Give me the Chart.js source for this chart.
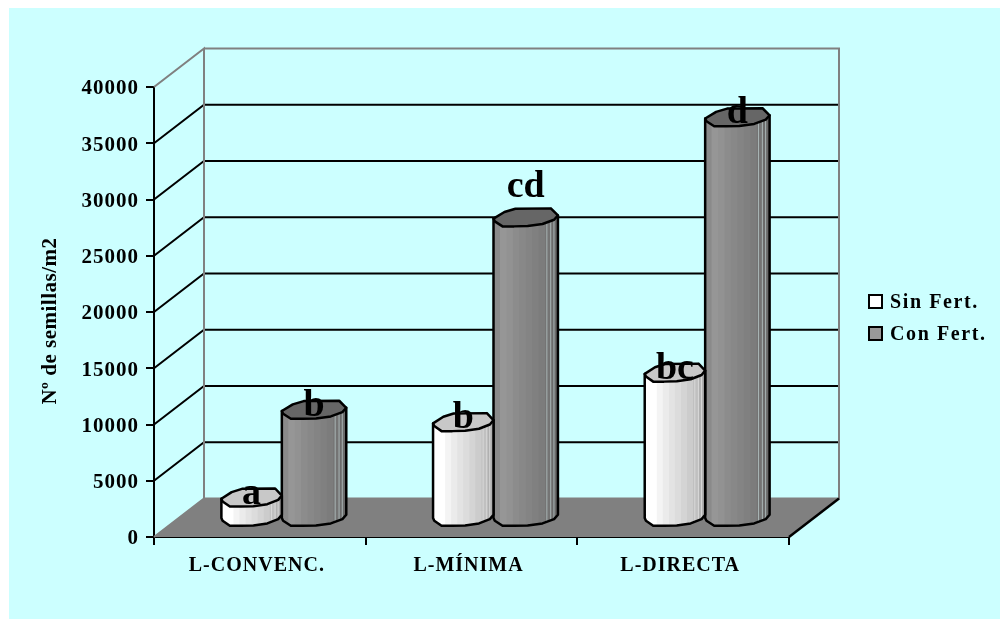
<!DOCTYPE html>
<html>
<head>
<meta charset="utf-8">
<title>Semillas por m2</title>
<script src="https://cdn.jsdelivr.net/npm/chart.js@4/dist/chart.umd.min.js"></script>
<style>
    html, body { margin: 0; padding: 0; background: #fff; }
    #wrap { width: 1000px; height: 619px; }
</style>
</head>
<body>
<div id="wrap"><canvas id="seedChart"></canvas></div>
<script>
// Chart data
const categories = ['L-CONVENC.', 'L-MÍNIMA', 'L-DIRECTA'];
const sinFert = [1800, 8500, 12900];
const conFert = [9600, 26700, 35600];
const sinFertLetters = ['a', 'b', 'bc'];
const conFertLetters = ['b', 'cd', 'd'];
const yTicks = [0, 5000, 10000, 15000, 20000, 25000, 30000, 35000, 40000];

const SERIF = '"Liberation Serif", "Times New Roman", serif';

// Depth of the fake 3D box, in pixels
const DEPTH_X = 50;
const DEPTH_Y = -38.5;
const CAP_HEIGHT = 18;

// Outline of the column section, as fractions of its width and cap height
const capTop = [[0, .57], [.17, .2], [.34, .02], [.89, 0], [1, .39]];
const capBottom = [[.94, .63], [.76, .87], [.53, .98], [.32, 1], [.14, 1], [.02, .72]];

const whiteBands = ['#ffffff', '#ffffff', '#f4f4f4', '#ebebeb', '#e3e3e3', '#dcdcdc', '#d4d4d4', '#cccccc', '#c0c0c0', '#b0b0b0'];
const greyBands = ['#8a8a8a', '#969696', '#929292', '#8c8c8c', '#888888', '#848484', '#808080', '#7c7c7c', '#747474', '#6a6a6a'];

function tracePoints(ctx, pts, x, y, w) {
    pts.forEach(p => ctx.lineTo(x + p[0] * w, y + p[1] * CAP_HEIGHT));
}

// Bar controller that paints each bar as a faceted column standing mid-depth
class ColumnController extends Chart.BarController {
    draw() {
        const ctx = this.chart.ctx;
        const ds = this.getDataset();
        this.getMeta().data.forEach(el => {
            const left = el.x - el.width / 2 + DEPTH_X / 2 + ds.inset[0];
            const w = el.width - ds.inset[0] + ds.inset[1];
            const topY = el.y + DEPTH_Y / 2 - CAP_HEIGHT / 2;
            const baseY = el.base + DEPTH_Y / 2 - CAP_HEIGHT / 2;

            ctx.save();
            ctx.lineJoin = 'round';
            ctx.lineWidth = 2.5;
            ctx.strokeStyle = '#000';

            // body
            ctx.beginPath();
            ctx.moveTo(left, topY + capTop[0][1] * CAP_HEIGHT);
            ctx.lineTo(left + w, topY + capTop[4][1] * CAP_HEIGHT);
            ctx.lineTo(left + w, baseY + capTop[4][1] * CAP_HEIGHT);
            tracePoints(ctx, capBottom, left, baseY, w);
            ctx.lineTo(left, baseY + capTop[0][1] * CAP_HEIGHT);
            ctx.closePath();

            ctx.save();
            ctx.clip();
            const bands = ds.bands;
            const bw = w / bands.length;
            bands.forEach((c, i) => {
                ctx.fillStyle = c;
                ctx.fillRect(left + i * bw, topY, bw + 1, baseY - topY + CAP_HEIGHT + 2);
            });
            // thin highlights near the right edge
            ctx.fillStyle = ds.glint;
            [.82, .88, .93].forEach(u => ctx.fillRect(left + u * w, topY, 1, baseY - topY + CAP_HEIGHT + 2));
            ctx.restore();
            ctx.stroke();

            // top cap
            ctx.beginPath();
            ctx.moveTo(left + capTop[0][0] * w, topY + capTop[0][1] * CAP_HEIGHT);
            tracePoints(ctx, capTop.slice(1), left, topY, w);
            tracePoints(ctx, capBottom, left, topY, w);
            ctx.closePath();
            ctx.fillStyle = ds.capColor;
            ctx.fill();
            ctx.stroke();
            ctx.restore();
        });
    }
}
ColumnController.id = 'column3d';
ColumnController.defaults = Chart.BarController.defaults;
ColumnController.overrides = Chart.BarController.overrides;
Chart.register(ColumnController);

// Panel, walls, floor and gridlines behind the columns
const boxPlugin = {
    id: 'box3d',
    beforeDraw(chart) {
        const ctx = chart.ctx;
        ctx.save();
        ctx.fillStyle = '#ccffff';
        ctx.fillRect(9, 8, 991, 611);
        ctx.restore();
        ctx.letterSpacing = '1px';
    },
    beforeDatasetsDraw(chart) {
        const ctx = chart.ctx;
        const { left, right } = chart.chartArea;
        const y = chart.scales.y;
        const y0 = y.getPixelForValue(0);
        const yMax = y.getPixelForValue(yTicks[yTicks.length - 1]);

        ctx.save();
        // floor
        ctx.beginPath();
        ctx.moveTo(left, y0);
        ctx.lineTo(right, y0);
        ctx.lineTo(right + DEPTH_X, y0 + DEPTH_Y);
        ctx.lineTo(left + DEPTH_X, y0 + DEPTH_Y);
        ctx.closePath();
        ctx.fillStyle = '#808080';
        ctx.fill();

        // gridlines along the side wall and the back wall
        ctx.strokeStyle = '#000';
        ctx.lineWidth = 2;
        yTicks.slice(1, -1).forEach(v => {
            const py = y.getPixelForValue(v);
            ctx.beginPath();
            ctx.moveTo(left, py);
            ctx.lineTo(left + DEPTH_X, py + DEPTH_Y);
            ctx.lineTo(right + DEPTH_X, py + DEPTH_Y);
            ctx.stroke();
        });

        // wall outline
        ctx.strokeStyle = '#808080';
        ctx.lineWidth = 2;
        ctx.beginPath();
        ctx.moveTo(left, y0);
        ctx.lineTo(left + DEPTH_X, y0 + DEPTH_Y);
        ctx.lineTo(left + DEPTH_X, yMax + DEPTH_Y);
        ctx.lineTo(left, yMax);
        ctx.moveTo(left + DEPTH_X, yMax + DEPTH_Y);
        ctx.lineTo(right + DEPTH_X, yMax + DEPTH_Y);
        ctx.lineTo(right + DEPTH_X, y0 + DEPTH_Y);
        ctx.lineTo(left + DEPTH_X, y0 + DEPTH_Y);
        ctx.stroke();

        // front right edge of the floor
        ctx.strokeStyle = '#000';
        ctx.lineWidth = 2.5;
        ctx.beginPath();
        ctx.moveTo(right, y0);
        ctx.lineTo(right + DEPTH_X, y0 + DEPTH_Y);
        ctx.stroke();
        ctx.restore();
    },
    afterDatasetsDraw(chart) {
        const ctx = chart.ctx;
        ctx.save();
        ctx.letterSpacing = '0px';
        ctx.fillStyle = '#000';
        ctx.font = 'bold 38px ' + SERIF;
        ctx.textAlign = 'center';
        ctx.textBaseline = 'alphabetic';
        [sinFertLetters, conFertLetters].forEach((letters, d) => {
            chart.getDatasetMeta(d).data.forEach((el, i) => {
                // the "cd" letters sit clear above their column
                const lift = letters[i] === 'cd' ? -20 : 6;
                ctx.fillText(letters[i], el.x + DEPTH_X / 2 - 2, el.y + DEPTH_Y / 2 + lift);
            });
        });
        ctx.restore();
    },
    afterDraw(chart) {
        const ctx = chart.ctx;
        ctx.save();
        ctx.fillStyle = '#000';

        // y axis title
        ctx.save();
        ctx.translate(51, 321);
        ctx.rotate(-Math.PI / 2);
        ctx.letterSpacing = '0.5px';
        ctx.font = 'bold 21px ' + SERIF;
        ctx.textAlign = 'center';
        ctx.textBaseline = 'middle';
        ctx.fillText('Nº de semillas/m2', 0, 0);
        ctx.restore();

        // legend
        ctx.letterSpacing = '1.6px';
        ctx.font = 'bold 20px ' + SERIF;
        ctx.textBaseline = 'middle';
        chart.data.datasets.forEach((ds, i) => {
            const ly = 301 + i * 32;
            ctx.fillStyle = ds.legendColor;
            ctx.strokeStyle = '#000';
            ctx.lineWidth = 2;
            ctx.fillRect(869, ly - 6, 13, 13);
            ctx.strokeRect(869, ly - 6, 13, 13);
            ctx.fillStyle = '#000';
            ctx.fillText(ds.label, 890, ly + 2);
        });
        ctx.restore();
    }
};

new Chart(document.getElementById('seedChart'), {
    type: 'column3d',
    data: {
        labels: categories,
        datasets: [
            { label: 'Sin Fert.', data: sinFert, bands: whiteBands, glint: '#d8d8d8', capColor: '#c8c8c8', legendColor: '#ffffff', inset: [-1, -3] },
            { label: 'Con Fert.', data: conFert, bands: greyBands, glint: '#a8b4b4', capColor: '#666666', legendColor: '#999999', inset: [-3, -1] }
        ]
    },
    options: {
        responsive: true,
        maintainAspectRatio: false,
        animation: false,
        categoryPercentage: 0.59,
        barPercentage: 1,
        layout: { padding: { left: 0, top: 87, right: 211, bottom: 0 } },
        plugins: {
            legend: { display: false },
            tooltip: { enabled: false }
        },
        scales: {
            x: {
                type: 'category',
                offset: true,
                afterFit: s => { s.height = 82; },
                grid: { offset: true, drawOnChartArea: false, color: '#000', lineWidth: 2, tickLength: 8 },
                border: { color: '#000', width: 2 },
                ticks: { color: '#000', font: { family: SERIF, weight: 'bold', size: 20 }, padding: 9, labelOffset: -3, maxRotation: 0 }
            },
            y: {
                type: 'linear',
                min: 0,
                max: 40000,
                afterFit: s => { s.width = 154; },
                afterBuildTicks: s => { s.ticks = yTicks.map(v => ({ value: v })); },
                grid: { drawOnChartArea: false, color: '#000', lineWidth: 2, tickLength: 8 },
                border: { color: '#000', width: 2 },
                ticks: { color: '#000', font: { family: SERIF, weight: 'bold', size: 21 }, padding: 7, labelOffset: 2, callback: v => String(v) }
            }
        }
    },
    plugins: [boxPlugin]
});
</script>
</body>
</html>
